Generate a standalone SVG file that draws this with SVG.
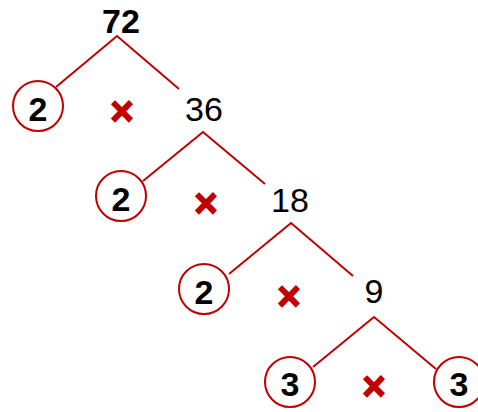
<svg xmlns="http://www.w3.org/2000/svg" width="478" height="412" viewBox="0 0 478 412">
<style>
.num{font-family:"Liberation Sans",Arial,sans-serif;font-size:34px;fill:#000;text-anchor:middle}
.b{font-weight:bold}
.ring{fill:none;stroke:#C00000;stroke-width:2}
.x{font-family:"Liberation Sans",Arial,sans-serif;font-size:40px;font-weight:bold;fill:#C00000;stroke:#C00000;stroke-width:1.5;text-anchor:middle}
.edge{stroke:#C00000;stroke-width:2;fill:none}
</style>
<rect width="478" height="412" fill="#fff"/>
<g id="connectors">
<polyline class="edge" points="56,87 117,36 179,89"/>
<polyline class="edge" points="143,181 203,132 265,184"/>
<polyline class="edge" points="229,274 291,223 353,276"/>
<polyline class="edge" points="313,367 374,317 436,369"/>
</g>
<g id="n72"><text class="num b" x="121" y="33">72</text></g>
<g id="n2a"><circle class="ring" cx="38" cy="106" r="25"/><text class="num b" x="38" y="121">2</text></g>
<g id="x1"><text class="x" x="122" y="125">×</text></g>
<g id="n36"><text class="num" x="204" y="121">36</text></g>
<g id="n2b"><circle class="ring" cx="121" cy="196" r="25"/><text class="num b" x="121" y="211">2</text></g>
<g id="x2"><text class="x" x="206" y="217">×</text></g>
<g id="n18"><text class="num" x="290" y="212">18</text></g>
<g id="n2c"><circle class="ring" cx="204" cy="289" r="25"/><text class="num b" x="204" y="304">2</text></g>
<g id="x3"><text class="x" x="289" y="310">×</text></g>
<g id="n9"><text class="num" x="374" y="303">9</text></g>
<g id="n3a"><circle class="ring" cx="290" cy="382" r="25"/><text class="num b" x="290" y="396">3</text></g>
<g id="x4"><text class="x" x="374" y="400">×</text></g>
<g id="n3b"><circle class="ring" cx="459" cy="382" r="25"/><text class="num b" x="459" y="396">3</text></g>
</svg>
